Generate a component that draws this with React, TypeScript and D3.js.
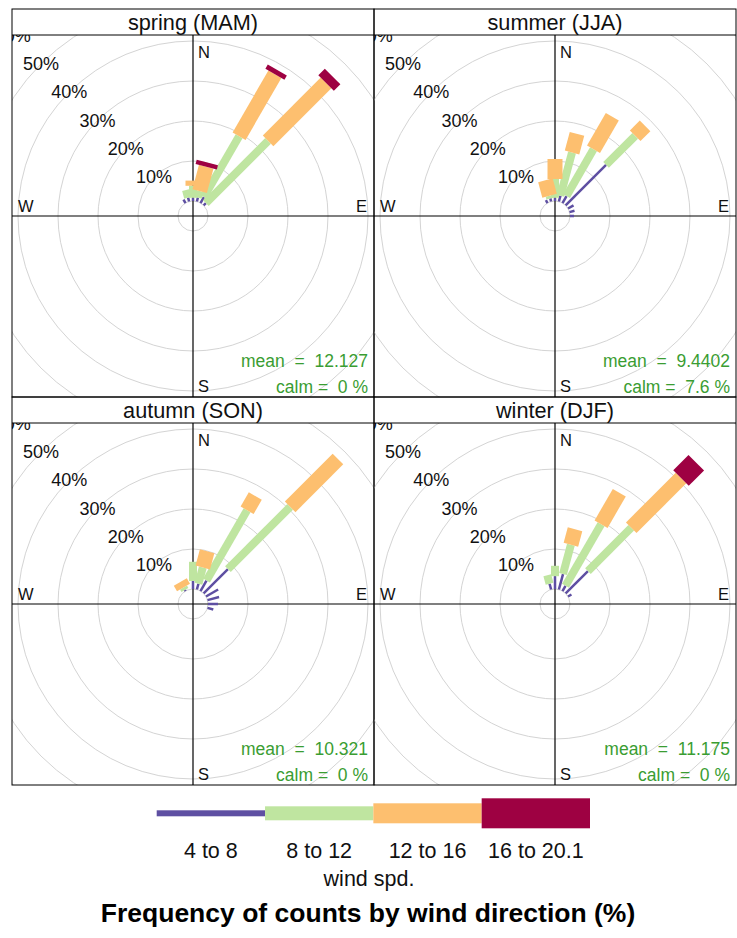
import React from 'react';
import * as d3 from 'd3';

// panel titles and stats
const SEASON_LABELS = ["spring (MAM)", "summer (JJA)", "autumn (SON)", "winter (DJF)"];
const MEAN_LABELS = ["12.127", "9.4402", "10.321", "11.175"];
const CALM_LABELS = ["0", "7.6", "0", "0"];

// speed bins
const SPEED_LABELS = ["4 to 8", "8 to 12", "12 to 16", "16 to 20.1"];
const SPEED_COLOURS = ["#5E4FA2", "#BFE5A0", "#FDBF6F", "#9E0142"];

// radial grid (%)
const PCT_GRID = [0, 10, 20, 30, 40, 50, 60];
const PCT_LABELS = [10, 20, 30, 40, 50, 60];

// wind direction (deg) and frequency (%) for each speed bin [4-8, 8-12, 12-16, 16-20.1]
const SPRING_WD = [330, 345, 0, 15, 30, 45];
const SPRING_FREQ = [
  [1.0, 0, 0, 0],
  [1.0, 2.0, 0, 0],
  [0.8, 3.0, 1.3, 0],
  [1.0, 1.7, 6.3, 1.1],
  [1.7, 17.6, 17.9, 1.2],
  [0.8, 22.0, 20.5, 2.3],
];

const SUMMER_WD = [330, 345, 0, 15, 30, 45, 60, 75, 90];
const SUMMER_FREQ = [
  [0.8, 0, 0, 0],
  [0.8, 0.7, 4.0, 0],
  [0.8, 4.7, 5.0, 0],
  [1.5, 11.2, 4.8, 0],
  [2.0, 13.5, 9.4, 0],
  [14.3, 10.3, 3.5, 0],
  [1.6, 0, 0, 0],
  [1.3, 0, 0, 0],
  [1.0, 0, 0, 0],
];

const AUTUMN_WD = [330, 0, 15, 30, 45, 60, 75, 90, 105];
const AUTUMN_FREQ = [
  [0.3, 0.7, 1.6, 0],
  [2.0, 4.8, 0, 0],
  [1.5, 4.2, 4.2, 0],
  [3.0, 20.3, 4.1, 0],
  [8.6, 22.0, 16.9, 0],
  [3.5, 0, 0, 0],
  [3.0, 0, 0, 0],
  [2.5, 0, 0, 0],
  [1.5, 0, 0, 0],
];

const WINTER_WD = [345, 0, 15, 30, 45, 60];
const WINTER_FREQ = [
  [1.5, 2.2, 0, 0],
  [3.2, 2.6, 0, 0],
  [4.0, 7.6, 4.0, 0],
  [1.5, 17.8, 9.1, 0],
  [7.9, 15.3, 17.6, 5.4],
  [1.0, 0, 0, 0],
];

const SEASON_WD = [SPRING_WD, SUMMER_WD, AUTUMN_WD, WINTER_WD];
const SEASON_FREQ = [SPRING_FREQ, SUMMER_FREQ, AUTUMN_FREQ, WINTER_FREQ];

const W = 737;
const H = 938;
const LEFT = 12;
const TOP = 9;
const STRIP = 26;
const SIZE = 362;
const PADDLE_W = [2.5, 8, 15, 22];
const LEGEND_H = [6, 14, 20, 30];
const FONT = '"Liberation Sans", Arial, sans-serif';
const STAT_COLOUR = "#3a9d32";

const rScale = d3.scaleLinear().domain([0, 10]).range([15, 55]);

function paddle(cx: number, cy: number, wd: number, f1: number, f2: number, w: number) {
  const a = (wd * Math.PI) / 180;
  const r1 = rScale(f1);
  const r2 = rScale(f2);
  const ux = Math.sin(a), uy = -Math.cos(a);
  const nx = Math.cos(a) * w / 2, ny = Math.sin(a) * w / 2;
  const p = d3.path();
  p.moveTo(cx + r1 * ux - nx, cy + r1 * uy - ny);
  p.lineTo(cx + r1 * ux + nx, cy + r1 * uy + ny);
  p.lineTo(cx + r2 * ux + nx, cy + r2 * uy + ny);
  p.lineTo(cx + r2 * ux - nx, cy + r2 * uy - ny);
  p.closePath();
  return p.toString();
}

function Rose({ idx }: { idx: number }) {
  const col = idx % 2;
  const row = Math.floor(idx / 2);
  const x0 = LEFT + col * SIZE;
  const y0 = TOP + row * (STRIP + SIZE);
  const py = y0 + STRIP;
  const cx = x0 + SIZE / 2;
  const cy = py + SIZE / 2;
  const wds = SEASON_WD[idx];
  const freqs = SEASON_FREQ[idx];
  const cums = freqs.map(f => [0, ...Array.from(d3.cumsum(f))]);
  const clipId = `clip-${idx}`;

  return (
    <g>
      <defs>
        <clipPath id={clipId}>
          <rect x={x0} y={py} width={SIZE} height={SIZE} />
        </clipPath>
      </defs>
      <g clipPath={`url(#${clipId})`}>
        {PCT_GRID.map(p => (
          <circle key={p} cx={cx} cy={cy} r={rScale(p)} fill="none" stroke="#d4d4d4" strokeWidth={1} />
        ))}
        {PCT_LABELS.map(p => (
          <text key={p} x={cx - rScale(p) / Math.SQRT2} y={cy - rScale(p) / Math.SQRT2}
            textAnchor="middle" dominantBaseline="central" fontSize={18} fill="#111">{`${p}%`}</text>
        ))}
        <line x1={x0} x2={x0 + SIZE} y1={cy} y2={cy} stroke="#000" strokeWidth={1.2} />
        <line x1={cx} x2={cx} y1={py} y2={py + SIZE} stroke="#000" strokeWidth={1.2} />
        {SPEED_COLOURS.map((c, i) => (
          <g key={i}>
            {wds.map((wd, j) => freqs[j][i] > 0 ? (
              <path key={j} d={paddle(cx, cy, wd, cums[j][i], cums[j][i + 1], PADDLE_W[i])} fill={c} />
            ) : null)}
          </g>
        ))}
        <text x={cx + 5} y={py + 23.3} fontSize={16.5} fill="#111">N</text>
        <text x={cx + 5} y={py + SIZE - 5.3} fontSize={16.5} fill="#111">S</text>
        <text x={x0 + 6} y={cy - 3.7} fontSize={16.5} fill="#111">W</text>
        <text x={x0 + SIZE - 7} y={cy - 3.7} fontSize={16.5} fill="#111" textAnchor="end">E</text>
        <text x={x0 + SIZE - 6} y={py + SIZE - 30.5} fontSize={17.5} fill={STAT_COLOUR} textAnchor="end"
          style={{ whiteSpace: 'pre' }}>{`mean  =  ${MEAN_LABELS[idx]}`}</text>
        <text x={x0 + SIZE - 6} y={py + SIZE - 3.7} fontSize={17.5} fill={STAT_COLOUR} textAnchor="end"
          style={{ whiteSpace: 'pre' }}>{`calm =  ${CALM_LABELS[idx]} %`}</text>
      </g>
      <rect x={x0} y={y0} width={SIZE} height={STRIP + SIZE} fill="none" stroke="#000" strokeWidth={1} />
      <line x1={x0} x2={x0 + SIZE} y1={py} y2={py} stroke="#000" strokeWidth={1} />
      <text x={cx} y={y0 + 20.5} textAnchor="middle" fontSize={21.7} fill="#111">{SEASON_LABELS[idx]}</text>
    </g>
  );
}

function Legend() {
  const x = d3.scaleBand<string>().domain(SPEED_LABELS).range([156.7, 590]).paddingInner(0);
  const yc = 813.3;
  return (
    <g>
      {SPEED_LABELS.map((s, i) => (
        <g key={s}>
          <rect x={x(s)} y={yc - LEGEND_H[i] / 2} width={x.bandwidth()} height={LEGEND_H[i]} fill={SPEED_COLOURS[i]} />
          <text x={(x(s) as number) + x.bandwidth() / 2} y={858.3} textAnchor="middle" fontSize={21.5} fill="#111">{s}</text>
        </g>
      ))}
      <text x={369} y={886} textAnchor="middle" fontSize={21.5} fill="#111">wind spd.</text>
    </g>
  );
}

export default function App() {
  return (
    <svg width={W} height={H} viewBox={`0 0 ${W} ${H}`}
      style={{ position: 'absolute', left: 0, top: 0, background: '#fff', fontFamily: FONT }}>
      <rect x={0} y={0} width={W} height={H} fill="#fff" />
      {SEASON_LABELS.map((_, i) => <Rose key={i} idx={i} />)}
      <Legend />
      <text x={368} y={922} textAnchor="middle" fontSize={26.5} fontWeight="bold" fill="#000">
        Frequency of counts by wind direction (%)
      </text>
    </svg>
  );
}
